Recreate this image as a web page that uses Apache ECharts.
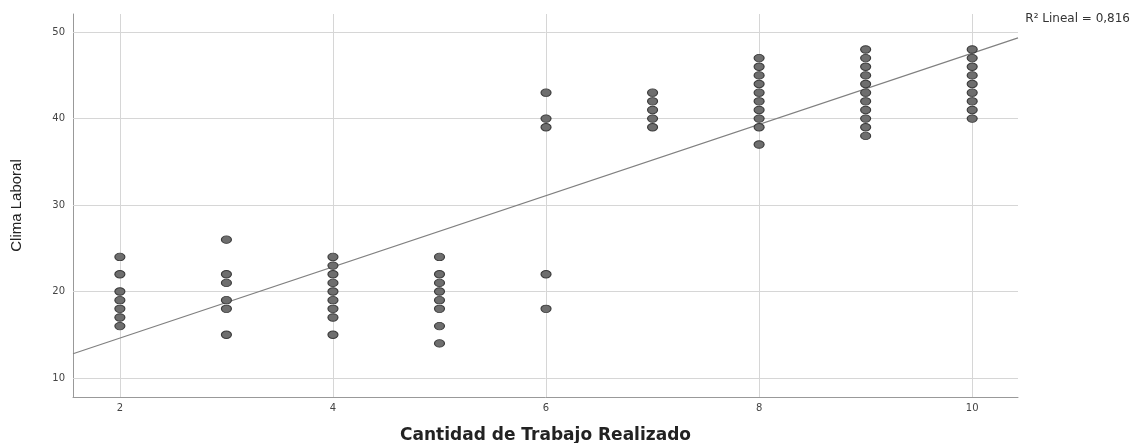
<!DOCTYPE html>
<html>
<head>
<meta charset="utf-8">
<script src="https://cdn.jsdelivr.net/npm/echarts@6/dist/echarts.min.js"></script>
<style>html,body{margin:0;padding:0;background:#fff}#c{width:1135px;height:443px}</style>
</head>
<body>
<div id="c"></div>
<script>
// Observed values (x = Cantidad de Trabajo Realizado, y = Clima Laboral)
const x2 = [16, 17, 18, 19, 20, 22, 24];
const x3 = [15, 18, 19, 21, 22, 26];
const x4 = [15, 17, 18, 19, 20, 21, 22, 23, 24];
const x5 = [14, 16, 18, 19, 20, 21, 22, 24];
const x6 = [18, 22, 39, 40, 43];
const x7 = [39, 40, 41, 42, 43];
const x8 = [37, 39, 40, 41, 42, 43, 44, 45, 46, 47];
const x9 = [38, 39, 40, 41, 42, 43, 44, 45, 46, 47, 48];
const x10 = [40, 41, 42, 43, 44, 45, 46, 47, 48];
const groupX = [2, 3, 4, 5, 6, 7, 8, 9, 10];
const groupY = [x2, x3, x4, x5, x6, x7, x8, x9, x10];

// Linear fit
const fitIntercept = 6.37;
const fitSlope = 4.12;
const r2Label = 'R² Lineal = 0,816';

const xTicks = [2, 4, 6, 8, 10];
const yTicks = [10, 20, 30, 40, 50];
const xMin = 1.56, xMax = 10.43, yMin = 7.8, yMax = 52.1;

const points = [];
groupX.forEach((gx, i) => groupY[i].forEach(v => points.push([gx, v])));
const fitLine = [[xMin, fitIntercept + fitSlope * xMin], [xMax, fitIntercept + fitSlope * xMax]];

const chart = echarts.init(document.getElementById('c'), null, {renderer: 'canvas'});
const gridColor = '#d6d6d6';
const tickFont = {color: '#444', fontSize: 10, fontFamily: 'DejaVu Sans'};
chart.setOption({
  animation: false,
  backgroundColor: '#fff',
  grid: {left: 73, right: 117, top: 14, bottom: 46, containLabel: false, outerBoundsMode: 'none'},
  xAxis: {
    type: 'value', min: xMin, max: xMax,
    name: 'Cantidad de Trabajo Realizado', nameLocation: 'middle', nameGap: 30,
    nameTextStyle: {fontFamily: 'DejaVu Sans', fontWeight: 'bold', fontSize: 17, color: '#222'},
    axisLine: {show: true, lineStyle: {color: '#999', width: 1}},
    axisTick: {show: false},
    splitLine: {show: false},
    axisLabel: {show: false}
  },
  yAxis: {
    type: 'value', min: yMin, max: yMax,
    name: 'Clima Laboral', nameLocation: 'middle', nameGap: 49, nameRotate: 90,
    nameTextStyle: {fontFamily: 'Liberation Sans', fontSize: 15, color: '#222'},
    axisLine: {show: true, lineStyle: {color: '#999', width: 1}},
    axisTick: {show: false},
    splitLine: {show: false},
    axisLabel: {show: false}
  },
  series: [
    {
      type: 'scatter', data: [], silent: true, z: 1,
      markLine: {
        silent: true, symbol: 'none', label: {show: false}, z: 1,
        lineStyle: {color: gridColor, type: 'solid', width: 1},
        data: xTicks.map(v => ({xAxis: v})).concat(yTicks.map(v => ({yAxis: v})))
      }
    },
    {
      type: 'scatter', data: [], silent: true, z: 1,
      markPoint: {
        silent: true, symbol: 'rect', symbolSize: 0, z: 1,
        data: xTicks.map(v => ({coord: [v, yMin], value: v, label: Object.assign({show: true, position: 'bottom', distance: 6, formatter: String(v)}, tickFont)}))
          .concat(yTicks.map(v => ({coord: [xMin, v], value: v, label: Object.assign({show: true, position: 'left', distance: 8, formatter: String(v)}, tickFont)})))
      }
    },
    {
      type: 'line', data: fitLine, showSymbol: false, silent: true,
      lineStyle: {color: '#808080', width: 1.2}, z: 3
    },
    {
      type: 'scatter', data: points, symbol: 'circle', symbolSize: [10, 7.5],
      itemStyle: {color: '#6e6e6e', borderColor: '#3a3a3a', borderWidth: 1, opacity: 1}, z: 10
    }
  ],
  graphic: [{
    type: 'text', right: 5, top: 13,
    style: {text: r2Label, fontSize: 12, fontFamily: 'DejaVu Sans', fill: '#333'}
  }]
});
</script>
</body>
</html>
